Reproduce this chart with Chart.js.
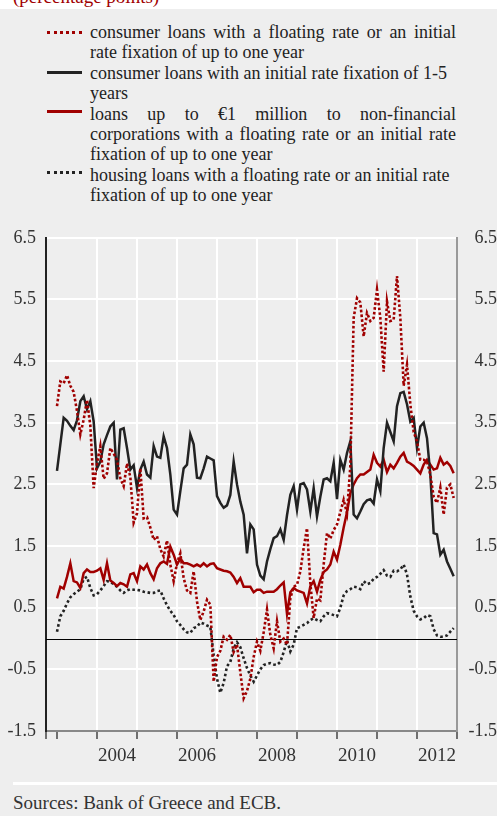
<!DOCTYPE html>
<html>
<head>
<meta charset="utf-8">
<script src="https://cdn.jsdelivr.net/npm/chart.js@4/dist/chart.umd.min.js"></script>
<style>
    html, body { margin: 0; padding: 0; }
    body {
        width: 497px; height: 816px; overflow: hidden; position: relative;
        background: #eeeeee; font-family: "Liberation Serif", "Times New Roman", serif; color: #222;
    }
    .topband { position: absolute; left: 0; top: 0; width: 497px; height: 9px; background: #fff; overflow: hidden; }
    .topband span { position: absolute; left: 13px; top: -14px; font-size: 19px; line-height: 22px; color: #a00000; }
    .legend { position: absolute; left: 90px; top: 22px; width: 366px; font-size: 18px; line-height: 20.4px; }
    .legend div { white-space: nowrap; }
    .legend .j { text-align: justify; text-align-last: justify; }
    .sample { position: absolute; left: 47px; width: 35px; height: 0; }
    .chart-box { position: absolute; left: 0; top: 217px; width: 497px; height: 558px; }
    .rule { position: absolute; left: 13px; top: 782px; width: 484px; height: 3px; background: #fff; }
    .source { position: absolute; left: 13px; top: 791px; font-size: 19px; line-height: 24px; color: #333; }
</style>
</head>
<body>
<div class="topband"><span>(percentage points)</span></div>

<div class="sample" style="top:31px; border-top:3px dotted #a00000;"></div>
<div class="sample" style="top:71px; border-top:3px solid #222;"></div>
<div class="sample" style="top:110px; border-top:3px solid #a00000;"></div>
<div class="sample" style="top:171px; border-top:3px dotted #222;"></div>

<div class="legend">
    <div class="j">consumer loans with a floating rate or an initial</div>
    <div>rate fixation of up to one year</div>
    <div>consumer loans with an initial rate fixation of 1-5</div>
    <div>years</div>
    <div class="j">loans up to €1 million to non-financial</div>
    <div class="j">corporations with a floating rate or an initial rate</div>
    <div>fixation of up to one year</div>
    <div>housing loans with a floating rate or an initial rate</div>
    <div>fixation of up to one year</div>
</div>

<div class="chart-box"><canvas id="chart"></canvas></div>
<div class="rule"></div>
<div class="source">Sources: Bank of Greece and ECB.</div>

<script>
// Monthly data, Jan 2003 - Dec 2012 (index 0 = Jan 2003)
const consumerFloat = [
    3.77, 4.17, 4.14, 4.27, 4.10, 4.00, 3.69, 3.31, 3.55, 3.87, 3.45, 2.44,
    2.84, 3.12, 2.59, 2.68, 3.09, 3.00, 2.90, 2.60, 2.47, 2.84, 2.62, 1.88,
    2.03, 2.76, 1.95, 1.97, 1.80, 1.60, 1.66, 1.45, 1.33, 1.59, 1.20, 0.93,
    1.22, 1.38, 0.98, 0.78, 0.74, 1.09, 0.60, 0.30, 0.44, 0.63, 0.55, -0.70,
    -0.30, -0.20, 0.03, -0.02, 0.06, -0.22, -0.10, -0.55, -0.97, -0.85, -0.65, -0.30,
    -0.05, -0.20, 0.10, 0.47, 0.06, -0.16, 0.28, -0.05, 0.00, -0.10, 0.65, 0.84,
    0.87, 1.09, 1.47, 1.79, 0.90, 0.33, 0.65, 0.62, 1.20, 1.71, 1.62, 1.76,
    1.85, 2.05, 2.25, 2.03, 2.80, 5.20, 5.52, 5.45, 4.90, 5.28, 5.15, 5.20,
    5.66, 5.20, 4.33, 5.47, 5.15, 5.17, 5.88, 5.20, 4.10, 4.44, 3.80, 3.35,
    3.20, 2.90, 2.90, 2.87, 2.66, 2.30, 2.20, 2.45, 2.01, 2.45, 2.50, 2.28
];
const consumer1to5 = [
    2.72, 3.15, 3.58, 3.53, 3.45, 3.38, 3.54, 3.85, 3.93, 3.72, 3.85, 3.52,
    2.76, 2.87, 3.15, 3.30, 3.44, 3.50, 2.58, 3.39, 3.41, 3.09, 2.74, 2.81,
    2.44, 2.74, 2.87, 2.66, 2.61, 3.12, 2.95, 2.93, 3.28, 3.09, 2.66, 2.09,
    2.01, 2.39, 2.76, 2.82, 3.31, 3.15, 2.61, 2.60, 2.76, 2.95, 2.92, 2.89,
    2.31, 2.20, 2.12, 2.16, 2.33, 2.87, 2.50, 2.22, 2.01, 1.38, 1.85, 1.77,
    1.20, 1.02, 0.96, 1.25, 1.45, 1.63, 1.66, 1.77, 1.60, 2.00, 2.33, 2.47,
    2.09, 2.50, 2.52, 2.42, 2.06, 2.44, 1.98, 2.30, 2.58, 2.60, 2.55, 2.85,
    2.26, 2.90, 2.74, 3.01, 3.20, 2.01, 1.95, 2.06, 2.18, 2.24, 2.26, 2.19,
    2.58, 2.39, 3.09, 3.50, 3.35, 3.20, 3.77, 3.98, 4.00, 3.80, 3.52, 3.58,
    3.09, 3.44, 3.50, 3.25, 2.66, 1.71, 1.69, 1.36, 1.44, 1.25, 1.13, 1.01
];
const nfcFloat = [
    0.65, 0.84, 0.81, 1.00, 1.22, 0.93, 0.91, 0.82, 1.06, 1.12, 1.08, 1.08,
    1.10, 1.14, 0.95, 1.22, 0.94, 0.90, 0.85, 0.90, 0.88, 0.84, 1.04, 1.06,
    0.93, 1.17, 1.12, 1.20, 1.06, 0.96, 1.14, 1.22, 1.25, 1.21, 1.49, 1.36,
    1.20, 1.30, 1.22, 1.22, 1.20, 1.17, 1.20, 1.17, 1.22, 1.17, 1.21, 1.22,
    1.14, 1.12, 1.10, 1.09, 1.07, 1.00, 0.90, 0.98, 0.84, 0.84, 0.84, 0.75,
    0.79, 0.79, 0.74, 0.76, 0.76, 0.76, 0.80, 0.86, 0.91, 0.40, 0.75, 0.82,
    0.78, 0.76, 0.74, 0.57, 0.85, 0.93, 0.76, 0.95, 1.08, 1.12, 1.20, 1.41,
    1.28, 1.52, 1.80, 2.05, 2.36, 2.50, 2.60, 2.66, 2.66, 2.70, 2.74, 2.98,
    2.85, 2.79, 2.90, 2.70, 2.82, 2.76, 2.85, 2.95, 3.01, 2.87, 2.84, 2.80,
    2.74, 2.68, 2.82, 2.90, 2.82, 2.74, 2.76, 2.93, 2.82, 2.86, 2.80, 2.68
];
const housingFloat = [
    0.11, 0.36, 0.45, 0.57, 0.67, 0.72, 0.76, 0.80, 0.97, 1.00, 0.82, 0.70,
    0.72, 0.78, 0.85, 0.93, 0.92, 0.88, 0.84, 0.78, 0.74, 0.78, 0.80, 0.79,
    0.79, 0.78, 0.76, 0.75, 0.74, 0.74, 0.77, 0.78, 0.65, 0.54, 0.45, 0.38,
    0.28, 0.22, 0.15, 0.10, 0.09, 0.17, 0.19, 0.26, 0.24, 0.21, 0.19, -0.27,
    -0.65, -0.88, -0.72, -0.45, -0.38, -0.16, -0.06, -0.14, -0.32, -0.48, -0.60, -0.70,
    -0.60, -0.50, -0.43, -0.41, -0.40, -0.42, -0.43, -0.38, -0.22, -0.03, -0.21, -0.10,
    0.17, 0.19, 0.22, 0.25, 0.30, 0.33, 0.30, 0.28, 0.36, 0.41, 0.40, 0.38,
    0.36, 0.50, 0.70, 0.77, 0.80, 0.84, 0.83, 0.80, 0.93, 0.88, 0.90, 0.97,
    1.00, 1.05, 1.11, 1.02, 1.00, 1.10, 1.09, 1.12, 1.20, 1.04, 0.68, 0.45,
    0.36, 0.31, 0.33, 0.38, 0.36, 0.15, 0.05, 0.03, 0.03, 0.05, 0.11, 0.17
];

const firstYear = 2003;
const yearLabels = ['2004', '2006', '2008', '2010', '2012'];
const yTicks = [-1.5, -0.5, 0.5, 1.5, 2.5, 3.5, 4.5, 5.5, 6.5];
const xMin = -3.3, xMax = 120;

const RED = '#a00000';
const BLACK = '#222222';

// x positions: month index
const toPoints = arr => arr.map((v, i) => ({ x: i, y: v }));

// year starts get gridlines + tick marks, mid-years get the labels
const yearStarts = [];
for (let m = 0; m <= 120; m += 12) yearStarts.push(m);
const labelPos = {};
yearLabels.forEach(y => { labelPos[(Number(y) - firstYear) * 12 + 6] = y; });
const xTickValues = [xMin, ...yearStarts, ...Object.keys(labelPos).map(Number)].sort((a, b) => a - b);

const zeroLine = {
    id: 'zeroLine',
    beforeDatasetsDraw(chart) {
        const { ctx, chartArea, scales } = chart;
        const y = Math.round(scales.y.getPixelForValue(0)) + 0.5;
        ctx.save();
        ctx.strokeStyle = '#000';
        ctx.lineWidth = 1;
        ctx.beginPath();
        ctx.moveTo(chartArea.left, y);
        ctx.lineTo(chartArea.right, y);
        ctx.stroke();
        ctx.restore();
    }
};

const tickFont = { family: 'Liberation Serif', size: 18 };

new Chart(document.getElementById('chart').getContext('2d'), {
    type: 'line',
    data: {
        datasets: [
            {
                label: 'consumer loans with a floating rate or an initial rate fixation of up to one year',
                data: toPoints(consumerFloat),
                borderColor: RED, borderWidth: 2.6, borderDash: [2.6, 2.2]
            },
            {
                label: 'consumer loans with an initial rate fixation of 1-5 years',
                data: toPoints(consumer1to5),
                borderColor: BLACK, borderWidth: 2.5
            },
            {
                label: 'loans up to €1 million to non-financial corporations with a floating rate or an initial rate fixation of up to one year',
                data: toPoints(nfcFloat),
                borderColor: RED, borderWidth: 2.5
            },
            {
                label: 'housing loans with a floating rate or an initial rate fixation of up to one year',
                data: toPoints(housingFloat),
                borderColor: BLACK, borderWidth: 2.6, borderDash: [2.6, 2.6]
            }
        ]
    },
    options: {
        responsive: true,
        maintainAspectRatio: false,
        animation: false,
        layout: { padding: 0 },
        elements: {
            point: { radius: 0 },
            line: { tension: 0, borderCapStyle: 'butt', borderJoinStyle: 'miter' }
        },
        plugins: {
            legend: { display: false },
            tooltip: { enabled: false }
        },
        scales: {
            x: {
                type: 'linear',
                min: xMin,
                max: xMax,
                afterBuildTicks: axis => { axis.ticks = xTickValues.map(v => ({ value: v })); },
                afterFit: axis => { axis.height = 44; },
                border: { color: '#888', width: 2 },
                grid: {
                    color: ctx => (yearStarts.includes(ctx.tick.value) && ctx.tick.value > 0 && ctx.tick.value < 120) ? '#ffffff' : 'rgba(0,0,0,0)',
                    lineWidth: 2,
                    tickColor: ctx => labelPos[ctx.tick.value] ? 'rgba(0,0,0,0)' : '#444',
                    tickWidth: 1.5,
                    tickLength: 8
                },
                ticks: {
                    autoSkip: false,
                    maxRotation: 0,
                    padding: 6,
                    color: '#333',
                    font: { family: 'Liberation Serif', size: 19 },
                    callback: v => labelPos[v] || ''
                }
            },
            y: {
                position: 'left',
                min: -1.5,
                max: 6.5,
                afterBuildTicks: axis => { axis.ticks = yTicks.map(v => ({ value: v })); },
                afterFit: axis => { axis.width = 46; },
                border: { color: '#222', width: 2 },
                grid: { color: '#ffffff', lineWidth: 2, drawTicks: false },
                ticks: { padding: 10, color: '#333', font: tickFont, callback: v => v.toFixed(1) }
            },
            y2: {
                position: 'right',
                min: -1.5,
                max: 6.5,
                afterBuildTicks: axis => { axis.ticks = yTicks.map(v => ({ value: v })); },
                afterFit: axis => { axis.width = 40; },
                border: { color: '#999', width: 2 },
                grid: { display: false, drawTicks: false },
                ticks: { padding: 0, crossAlign: 'far', color: '#333', font: tickFont, callback: v => v.toFixed(1) }
            }
        }
    },
    plugins: [zeroLine]
});
</script>
</body>
</html>
